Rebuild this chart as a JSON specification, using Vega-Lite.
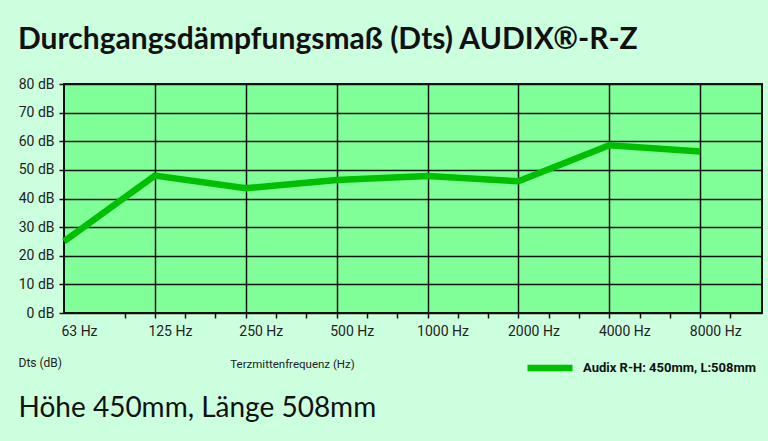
{
  "$schema": "https://vega.github.io/schema/vega-lite/v6.json",
  "autosize": {"type": "none"},
  "width": 698,
  "height": 229,
  "padding": {"left": 64, "top": 84, "right": 6, "bottom": 128},
  "background": "#CCFFDD",
  "title": {
    "text": "Durchgangsdämpfungsmaß (Dts) AUDIX®-R-Z",
    "anchor": "start",
    "frame": "bounds",
    "offset": 22,
    "font": "Lato",
    "fontSize": 30,
    "fontWeight": "bold",
    "color": "#111111"
  },
  "config": {
    "view": {"fill": "#80FF99", "stroke": "#111111", "strokeWidth": 2},
    "font": "Roboto"
  },
  "data": {
    "values": [
      {"idx": 0, "freq": "63 Hz", "dts": 25, "series": "Audix R-H: 450mm, L:508mm"},
      {"idx": 1, "freq": "125 Hz", "dts": 48, "series": "Audix R-H: 450mm, L:508mm"},
      {"idx": 2, "freq": "250 Hz", "dts": 43.6, "series": "Audix R-H: 450mm, L:508mm"},
      {"idx": 3, "freq": "500 Hz", "dts": 46.5, "series": "Audix R-H: 450mm, L:508mm"},
      {"idx": 4, "freq": "1000 Hz", "dts": 47.9, "series": "Audix R-H: 450mm, L:508mm"},
      {"idx": 5, "freq": "2000 Hz", "dts": 46, "series": "Audix R-H: 450mm, L:508mm"},
      {"idx": 6, "freq": "4000 Hz", "dts": 58.6, "series": "Audix R-H: 450mm, L:508mm"},
      {"idx": 7, "freq": "8000 Hz", "dts": 56.4, "series": "Audix R-H: 450mm, L:508mm"}
    ]
  },
  "resolve": {"axis": {"y": "independent"}},
  "layer": [
    {
      "mark": {"type": "line", "strokeWidth": 6.5, "strokeJoin": "miter"},
      "encoding": {
        "x": {
          "field": "idx",
          "type": "quantitative",
          "scale": {"domain": [0, 7.68], "nice": false, "zero": false},
          "axis": {
            "values": [0, 0.6667, 1, 1.3333, 1.6667, 2, 2.3333, 2.6667, 3, 3.3333, 3.6667, 4, 4.3333, 4.6667, 5, 5.3333, 5.6667, 6, 6.3333, 6.6667, 7, 7.3333],
            "tickCount": 40,
            "domain": false,
            "grid": true,
            "gridColor": "#111111",
            "gridWidth": 1.5,
            "gridOpacity": {"condition": {"test": "datum.value == round(datum.value) && datum.value > 0", "value": 1}, "value": 0},
            "tickColor": "#111111",
            "tickWidth": 1.5,
            "tickSize": 5,
            "tickOpacity": {"condition": {"test": "datum.value == 0", "value": 0}, "value": 1},
            "labelExpr": "datum.value == round(datum.value) ? ['63 Hz','125 Hz','250 Hz','500 Hz','1000 Hz','2000 Hz','4000 Hz','8000 Hz'][datum.value] : ''",
            "labelOverlap": false,
            "labelFlush": false,
            "labelBound": false,
            "labelAlign": "center",
            "labelOffset": 15,
            "labelPadding": 6,
            "labelFontSize": 14,
            "labelColor": "#222222",
            "title": "Terzmittenfrequenz (Hz)",
            "titleX": 228,
            "titleY": 51,
            "titleAnchor": null,
            "titleAlign": "center",
            "titleBaseline": "middle",
            "titleFontSize": 11.5,
            "titleFontWeight": "normal",
            "titleColor": "#222222"
          }
        },
        "y": {
          "field": "dts",
          "type": "quantitative",
          "scale": {"domain": [0, 80], "nice": false},
          "axis": {
            "values": [0, 10, 20, 30, 40, 50, 60, 70, 80],
            "tickCount": 20,
            "labelExpr": "datum.value + ' dB'",
            "domain": false,
            "grid": true,
            "gridColor": "#111111",
            "gridWidth": 1.5,
            "tickColor": "#111111",
            "tickWidth": 1.5,
            "tickSize": 5,
            "labelPadding": 5,
            "labelFontSize": 14,
            "labelColor": "#222222",
            "title": "Dts (dB)",
            "titleAngle": 0,
            "titleX": -46,
            "titleY": 278,
            "titleAlign": "left",
            "titleBaseline": "middle",
            "titleFontSize": 12,
            "titleFontWeight": "normal",
            "titleColor": "#222222"
          }
        },
        "color": {
          "field": "series",
          "type": "nominal",
          "scale": {"range": ["#00BE00"]},
          "legend": {
            "orient": "none",
            "legendX": 460,
            "legendY": 258,
            "title": null,
            "symbolType": "stroke",
            "symbolSize": 2025,
            "symbolStrokeWidth": 6.5,
            "labelFont": "Roboto",
            "labelFontSize": 13,
            "labelFontWeight": "bold",
            "labelColor": "#111111",
            "labelOffset": 7,
            "labelLimit": 300
          }
        }
      }
    },
    {
      "mark": {"type": "line", "opacity": 0},
      "encoding": {
        "x": {"field": "idx", "type": "quantitative"},
        "y": {
          "field": "dts",
          "type": "quantitative",
          "axis": {
            "orient": "left",
            "domain": false,
            "ticks": false,
            "labels": false,
            "grid": false,
            "title": "Höhe 450mm, Länge 508mm",
            "titleAngle": 0,
            "titleX": -46,
            "titleY": 324,
            "titleAlign": "left",
            "titleBaseline": "middle",
            "titleFont": "Lato",
            "titleFontSize": 28,
            "titleFontWeight": "normal",
            "titleColor": "#111111"
          }
        }
      }
    }
  ]
}
